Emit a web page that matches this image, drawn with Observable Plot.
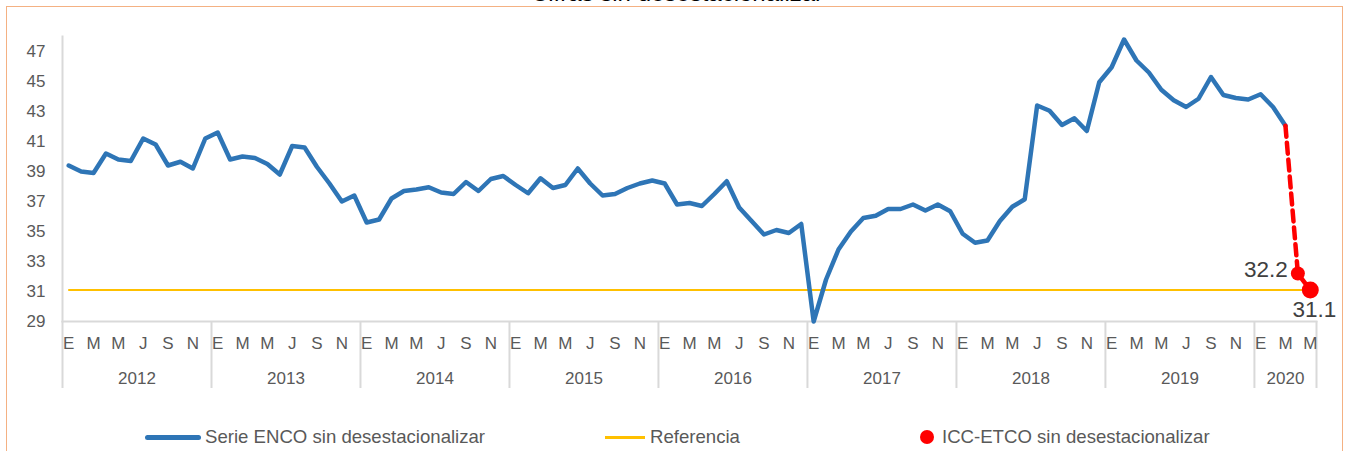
<!DOCTYPE html>
<html>
<head>
<meta charset="utf-8">
<script src="https://cdn.jsdelivr.net/npm/d3@7"></script>
<script src="https://cdn.jsdelivr.net/npm/@observablehq/plot@0.6"></script>
<style>
  html, body { margin: 0; padding: 0; background: #fff; overflow: hidden; }
  body { width: 1346px; height: 451px; position: relative; font-family: "Liberation Sans", Arial, sans-serif; }
  #border { position: absolute; left: 6px; top: 6px; width: 1337px; height: 460px; border: 1.5px solid #F4B183; box-sizing: border-box; }
  #title { position: absolute; left: 0; width: 1354px; text-align: center; top: -19px; font-size: 24px; line-height: 24px; color: #000; }
  #chart { position: absolute; left: 0; top: 0; }
  #legend { position: absolute; left: 0; top: 426px; width: 1346px; height: 24px; font-size: 18.6px; color: #595959; }
  .item { position: absolute; top: 0; height: 22px; line-height: 22px; white-space: nowrap; }
  .sw { position: absolute; }
</style>
</head>
<body>
<div id="border"></div>
<div id="title">Cifras sin desestacionalizar</div>
<div id="chart"></div>
<div id="legend"></div>
<script>
// ---- data ----
const years = [2012, 2013, 2014, 2015, 2016, 2017, 2018, 2019, 2020];
const monthLetters = ["E", "F", "M", "A", "M", "J", "J", "A", "S", "O", "N", "D"];
const yTicks = [29, 31, 33, 35, 37, 39, 41, 43, 45, 47];
// Serie ENCO sin desestacionalizar, Jan 2012 .. Mar 2020
const enco = [
  39.4, 39.0, 38.9, 40.2, 39.8, 39.7, 41.2, 40.8, 39.4, 39.65, 39.2, 41.2,
  41.6, 39.8, 40.0, 39.9, 39.5, 38.8, 40.7, 40.6, 39.3, 38.2, 37.0, 37.4,
  35.6, 35.8, 37.2, 37.7, 37.8, 37.95, 37.6, 37.5, 38.3, 37.7, 38.5, 38.7,
  38.1, 37.55, 38.55, 37.9, 38.1, 39.2, 38.2, 37.4, 37.5, 37.9, 38.2, 38.4,
  38.2, 36.8, 36.9, 36.7, 37.5, 38.35, 36.6, 35.7, 34.8, 35.1, 34.9, 35.5,
  29.0, 31.8, 33.8, 35.0, 35.9, 36.05, 36.5, 36.5, 36.8, 36.4, 36.8, 36.35,
  34.85, 34.25, 34.4, 35.7, 36.65, 37.15, 43.4, 43.05, 42.1, 42.55, 41.7, 44.95,
  45.95, 47.8, 46.4, 45.6, 44.45, 43.75, 43.3, 43.85, 45.3, 44.1, 43.9, 43.8,
  44.15, 43.3, 42.05
];
// ICC-ETCO sin desestacionalizar, Apr 2020 .. May 2020
const icc = [32.2, 31.1];
const icc_labels = ["32.2", "31.1"];
const referencia = 31.1;
const lastMonthCount = 5; // months shown in 2020

// ---- derived tables ----
const nMonths = (years.length - 1) * 12 + lastMonthCount;
const encoRows = enco.map((v, i) => ({i, v}));
const iccRows = icc.map((v, k) => ({i: enco.length + k, v, label: icc_labels[k]}));
const iccLine = [encoRows[encoRows.length - 1], ...iccRows];
const monthRows = d3.range(nMonths).filter(i => i % 2 === 0).map(i => ({i, label: monthLetters[i % 12]}));
const yearRows = years.map((y, k) => {
  const start = k * 12;
  const end = Math.min(start + 12, nMonths);
  return {i: (start + end - 1) / 2, label: String(y)};
});
const boundaries = years.map((y, k) => k * 12 - 0.5).concat([nMonths - 0.5]);

const font = "'Liberation Sans', Arial, sans-serif";
const chart = Plot.plot({
  width: 1346,
  height: 400,
  marginLeft: 62,
  marginRight: 30,
  marginTop: 36,
  marginBottom: 79,
  x: {domain: [-0.5, nMonths - 0.5], axis: null},
  y: {domain: [29, 48], axis: null},
  style: {fontFamily: font, background: "transparent", overflow: "visible"},
  marks: [
    Plot.axisY({ticks: yTicks, tickSize: 0, tickPadding: 17, fontSize: 17, color: "#595959", label: null}),
    Plot.axisX({ticks: boundaries, tickSize: 67, tickFormat: () => "", stroke: "#D9D9D9", strokeWidth: 2, label: null}),
    Plot.frame({anchor: "left", stroke: "#D9D9D9", strokeWidth: 2}),
    Plot.frame({anchor: "bottom", stroke: "#D9D9D9", strokeWidth: 2}),
    Plot.text(monthRows, {x: "i", text: "label", frameAnchor: "bottom", lineAnchor: "bottom", dy: 27, fontSize: 17, fill: "#595959"}),
    Plot.text(yearRows, {x: "i", text: "label", frameAnchor: "bottom", lineAnchor: "bottom", dy: 62, fontSize: 17, fill: "#595959"}),
    Plot.ruleY([referencia], {x1: 0, x2: nMonths - 1, stroke: "#FFC000", strokeWidth: 2}),
    Plot.lineY(encoRows, {x: "i", y: "v", stroke: "#2E75B6", strokeWidth: 4.5, strokeLinejoin: "round", strokeLinecap: "round"}),
    Plot.lineY(iccLine, {x: "i", y: "v", stroke: "#FF0000", strokeWidth: 4.5, strokeDasharray: "11,6"}),
    Plot.dot(iccRows.slice(0, 1), {x: "i", y: "v", r: 7, fill: "#FF0000", stroke: "none"}),
    Plot.dot(iccRows.slice(1), {x: "i", y: "v", r: 8.5, fill: "#FF0000", stroke: "none"}),
    Plot.text(iccRows.slice(0, 1), {x: "i", y: "v", text: "label", textAnchor: "end", dx: -10, dy: -4, fontSize: 22.5, fill: "#404040"}),
    Plot.text(iccRows.slice(1), {x: "i", y: "v", text: "label", textAnchor: "middle", dx: 4, dy: 20, fontSize: 22.5, fill: "#404040"})
  ]
});
document.getElementById("chart").appendChild(chart);

// ---- legend ----
const legendItems = [
  {label: "Serie ENCO sin desestacionalizar", kind: "thick", color: "#2E75B6", left: 145},
  {label: "Referencia", kind: "thin", color: "#FFC000", left: 605},
  {label: "ICC-ETCO sin desestacionalizar", kind: "dot", color: "#FF0000", left: 920}
];
const legend = document.getElementById("legend");
for (const it of legendItems) {
  const item = document.createElement("div");
  item.className = "item";
  item.style.left = it.left + "px";
  const sw = document.createElement("span");
  sw.className = "sw";
  let textLeft;
  if (it.kind === "thick") {
    Object.assign(sw.style, {left: "0px", top: "9px", width: "56px", height: "5px", borderRadius: "3px", background: it.color});
    textLeft = 60;
  } else if (it.kind === "thin") {
    Object.assign(sw.style, {left: "0px", top: "10px", width: "40px", height: "3px", background: it.color});
    textLeft = 45;
  } else {
    Object.assign(sw.style, {left: "0px", top: "4px", width: "14px", height: "14px", borderRadius: "50%", background: it.color});
    textLeft = 22;
  }
  item.appendChild(sw);
  const t = document.createElement("span");
  t.textContent = it.label;
  t.style.marginLeft = textLeft + "px";
  item.appendChild(t);
  legend.appendChild(item);
}
</script>
</body>
</html>
